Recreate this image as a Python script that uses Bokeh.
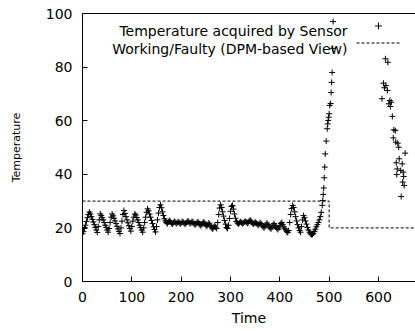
from bokeh.plotting import figure
from bokeh.models import (LinearAxis, FixedTicker, Range1d, Label, Legend,
                          LegendItem, ColumnDataSource)
from bokeh.embed import file_html
from bokeh.resources import INLINE

FONT = "DejaVu Sans"

# ---------------- data ----------------
x_ticks = [0, 100, 200, 300, 400, 500, 600]
y_ticks = [0, 20, 40, 60, 80, 100]

legend_labels = ["Temperature acquired by Sensor", "Working/Faulty (DPM-based View)"]
x_title = "Time"
y_title = "Temperature"

# sensor readings (time, temperature) - sawtooth heating cycles
readings_cycles = [
    (0, 17.8), (2, 18.6), (4, 19.8), (6, 21.0), (8, 22.4), (10, 23.8), (12, 25.0), (14, 25.9),
    (16, 25.2), (18, 24.2), (20, 23.2), (22, 22.2), (24, 21.2), (26, 20.2), (28, 19.2), (30, 18.3),
    (32, 20.5), (34, 23.0), (36, 25.2), (38, 24.6), (40, 23.8), (42, 23.0), (44, 22.0), (46, 21.0),
    (48, 20.2), (50, 19.2), (52, 18.4),
    (54, 19.8), (56, 22.0), (58, 24.0), (60, 25.2), (62, 24.5), (64, 23.6), (66, 22.6), (68, 21.6),
    (70, 20.6), (72, 19.6), (74, 18.7), (76, 17.9),
    (78, 20.0), (80, 22.5), (82, 25.0), (84, 26.5), (86, 25.4), (88, 24.2), (90, 23.0), (92, 21.9),
    (94, 20.8), (96, 19.8), (98, 18.8),
    (100, 20.5), (102, 22.5), (104, 24.0), (106, 25.2), (108, 24.8), (110, 23.9), (112, 23.0),
    (114, 22.0), (116, 21.0), (118, 20.1), (120, 19.2), (122, 18.4),
    (124, 20.0), (126, 22.0), (128, 24.0), (130, 25.8), (132, 27.1), (134, 26.4), (136, 25.2),
    (138, 24.0), (140, 22.8), (142, 21.6), (144, 20.4), (146, 19.4), (148, 18.5),
    (150, 20.5), (152, 23.0), (154, 25.5), (156, 27.6), (158, 28.6), (160, 27.5), (162, 26.0),
    (164, 24.6), (166, 23.4), (168, 22.6), (170, 22.0),
]

# plateau with occasional spikes
readings_plateau = [
    (172, 21.6), (174, 22.2), (176, 22.8), (178, 22.4), (180, 21.8), (182, 21.4), (184, 21.9),
    (186, 22.4), (188, 22.1), (190, 21.6), (192, 21.9), (194, 22.3), (196, 22.0), (198, 21.5),
    (200, 21.8), (202, 22.4), (204, 22.2), (206, 21.7), (208, 21.4), (210, 21.8), (212, 22.3),
    (214, 22.6), (216, 22.1), (218, 21.6), (220, 21.9), (222, 22.4), (224, 22.2), (226, 21.6),
    (228, 21.1), (230, 21.5), (232, 22.0), (234, 22.3), (236, 21.8), (238, 21.2), (240, 20.8),
    (242, 21.3), (244, 21.9), (246, 22.2), (248, 21.7), (250, 21.0), (252, 20.6), (254, 21.2),
    (256, 21.8), (258, 21.4), (260, 20.6), (262, 20.0), (264, 19.6), (266, 20.2), (268, 20.8),
    (270, 20.3), (272, 19.8),
    (274, 22.0), (276, 25.0), (278, 27.4), (280, 28.6), (282, 27.6), (284, 26.0), (286, 24.4),
    (288, 22.8), (290, 21.4), (292, 20.2), (294, 19.8), (296, 21.0),
    (298, 23.5), (300, 26.2), (302, 28.0), (304, 28.4), (306, 27.0), (308, 25.2), (310, 23.6),
    (312, 22.4), (314, 21.8),
    (316, 21.5), (318, 21.9), (320, 22.3), (322, 22.0), (324, 21.6), (326, 21.8), (328, 22.2),
    (330, 22.5), (332, 22.1), (334, 21.7), (336, 22.0), (338, 22.6), (340, 22.9), (342, 22.4),
    (344, 21.8), (346, 21.4), (348, 21.7), (350, 22.2), (352, 21.9), (354, 21.4), (356, 21.0),
    (358, 21.4), (360, 21.9), (362, 21.6), (364, 21.0), (366, 20.4), (368, 20.0), (370, 20.6),
    (372, 21.3), (374, 21.8), (376, 21.2), (378, 20.6), (380, 20.0), (382, 19.6), (384, 20.2),
    (386, 21.0), (388, 21.6), (390, 21.0), (392, 20.4), (394, 19.8), (396, 19.4), (398, 20.0),
    (400, 20.8), (402, 21.6), (404, 22.0), (406, 21.2), (408, 20.4), (410, 19.7), (412, 19.2),
    (414, 18.6), (416, 18.3), (418, 19.0),
    (420, 22.0), (422, 25.0), (424, 27.2), (426, 28.4), (428, 27.6), (430, 26.0), (432, 24.2),
    (434, 22.6), (436, 21.2), (438, 20.0), (440, 19.0), (442, 18.4),
    (444, 20.5), (446, 23.0), (448, 24.6), (450, 23.8), (452, 22.6), (454, 21.4), (456, 20.2),
    (458, 19.2), (460, 18.4), (462, 17.8), (464, 17.5), (466, 17.6), (468, 18.0), (470, 18.7),
    (472, 19.5), (474, 20.4), (476, 21.2), (478, 22.0), (480, 23.0), (482, 24.2), (484, 25.8),
    (486, 28.4),
]

# runaway rise (fault)
readings_rise = [
    (487, 30.2), (488, 32.5), (489, 34.9), (490, 38.7), (491, 42.7), (492, 47.6), (494, 52.4),
    (496, 57.0), (497, 58.8), (498, 60.1), (499, 61.3), (500, 62.6), (501, 65.7), (503, 66.4),
    (504, 70.5), (505, 74.3), (506, 78.0), (507, 87.0), (508, 97.0),
]

# return into range, noisy decline
readings_return = [
    (607, 68.2), (610, 74.0), (612, 72.3), (614, 83.1), (615, 73.1), (618, 71.3), (619, 81.8),
    (621, 66.3), (623, 67.5), (624, 65.3), (626, 66.9), (628, 61.6), (630, 53.6), (631, 56.6),
    (634, 56.3), (635, 52.0), (636, 44.3), (637, 39.9), (638, 42.0), (639, 51.6), (641, 50.1),
    (642, 45.8), (645, 41.4), (646, 31.7), (648, 43.9), (649, 37.1), (650, 40.8), (651, 39.2),
    (652, 35.8), (654, 47.9),
]

# DPM-based working / faulty view
status_time = [0, 500, 500, 700]
status_value = [30, 30, 20, 20]

# ---------------- plot ----------------
readings = readings_cycles + readings_plateau + readings_rise + readings_return
src = ColumnDataSource(data=dict(t=[r[0] for r in readings], v=[r[1] for r in readings]))

p = figure(width=415, height=331, x_range=Range1d(0, 675), y_range=Range1d(0, 100),
           output_backend="svg", toolbar_location=None,
           min_border_left=82, min_border_right=0, min_border_top=13, min_border_bottom=50)
p.outline_line_color = None
p.grid.visible = False
p.background_fill_color = "white"
p.border_fill_color = "white"

def style_axis(ax):
    ax.axis_line_color = "black"
    ax.axis_line_width = 1
    ax.major_tick_line_color = "black"
    ax.major_tick_in = 5
    ax.major_tick_out = 0
    ax.minor_tick_line_color = None
    ax.major_label_text_font = FONT
    ax.major_label_text_font_size = "14px"
    ax.major_label_text_color = "black"
    ax.axis_label_text_font = FONT
    ax.axis_label_text_font_size = "14px"
    ax.axis_label_text_font_style = "normal"
    ax.axis_label_text_color = "black"

xa = p.xaxis[0]
style_axis(xa)
xa.ticker = FixedTicker(ticks=x_ticks)
xa.axis_label = x_title
xa.major_label_standoff = 10
xa.axis_label_standoff = 5

ya = p.yaxis[0]
style_axis(ya)
ya.ticker = FixedTicker(ticks=y_ticks)
ya.axis_label = y_title
ya.axis_label_text_font_size = "11px"
ya.major_label_standoff = 10
ya.axis_label_standoff = 20

top_axis = LinearAxis(ticker=FixedTicker(ticks=[]), axis_line_color="black",
                      major_tick_in=0, major_tick_out=0, minor_tick_line_color=None,
                      major_label_standoff=0)
p.add_layout(top_axis, "above")

status = p.line(status_time, status_value, line_color="black", line_width=1, line_dash="3 2")
pts = p.scatter("t", "v", source=src, marker="cross", size=6, line_color="black", line_width=1)

# gnuplot-style key: samples drawn by the legend (no labels of its own),
# texts right-aligned to the left of the samples
legend = Legend(items=[LegendItem(label="", renderers=[pts]),
                       LegendItem(label="", renderers=[status])],
                location=(274, 230), orientation="vertical",
                glyph_width=44, glyph_height=17, label_height=17, label_width=0,
                label_standoff=0, label_text_font=FONT, label_text_font_size="14px",
                padding=0, margin=0, spacing=0,
                border_line_color=None, background_fill_alpha=0)
p.add_layout(legend)

for txt, yy in zip(legend_labels, [251, 233]):
    p.add_layout(Label(x=265, y=yy, x_units="screen", y_units="screen", text=txt,
                       text_align="right", text_baseline="alphabetic",
                       text_font=FONT, text_font_size="14px", text_color="black"))

open("out.html", "w").write(file_html(p, INLINE))
